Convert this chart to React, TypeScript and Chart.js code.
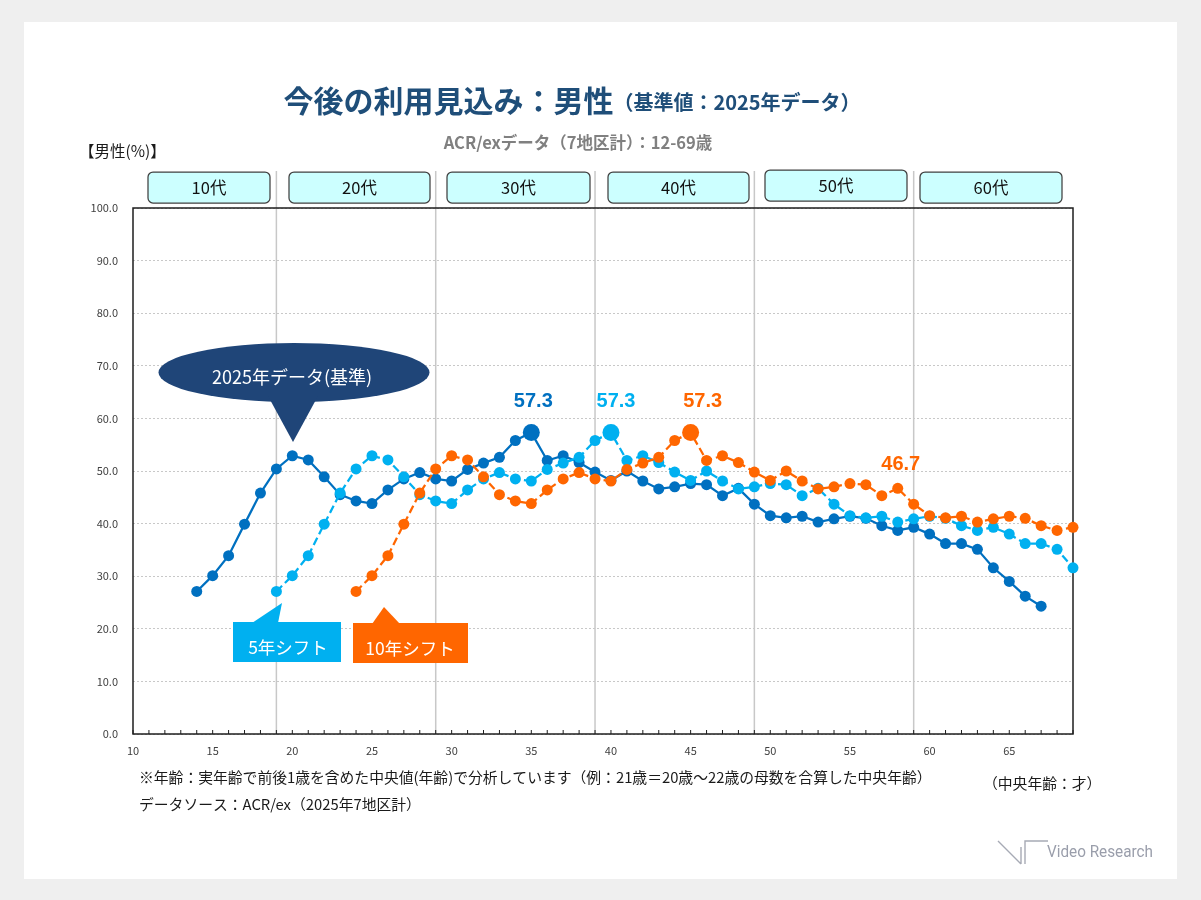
import { useEffect, useRef } from "react";
import { Chart, registerables } from "chart.js";

Chart.register(...registerables);

// ---- data ----
const baseAges = [14, 15, 16, 17, 18, 19, 20, 21, 22, 23, 24, 25, 26, 27, 28, 29, 30, 31, 32, 33, 34, 35, 36, 37, 38, 39, 40, 41, 42, 43, 44, 45, 46, 47, 48, 49, 50, 51, 52, 53, 54, 55, 56, 57, 58, 59, 60, 61, 62, 63, 64, 65, 66, 67];
const baseValues = [27.1, 30.1, 33.9, 39.9, 45.8, 50.4, 52.9, 52.1, 48.9, 45.5, 44.3, 43.8, 46.4, 48.5, 49.7, 48.5, 48.1, 50.3, 51.5, 52.6, 55.8, 57.3, 52.0, 52.9, 51.6, 49.8, 48.2, 50.0, 48.1, 46.6, 47.0, 47.6, 47.4, 45.3, 46.7, 43.7, 41.5, 41.1, 41.4, 40.3, 40.9, 41.4, 41.0, 39.6, 38.7, 39.3, 38.0, 36.2, 36.2, 35.1, 31.6, 29.0, 26.2, 24.3];

const shift5Ages = [19, 20, 21, 22, 23, 24, 25, 26, 27, 28, 29, 30, 31, 32, 33, 34, 35, 36, 37, 38, 39, 40, 41, 42, 43, 44, 45, 46, 47, 48, 49, 50, 51, 52, 53, 54, 55, 56, 57, 58, 59, 60, 61, 62, 63, 64, 65, 66, 67, 68, 69];
const shift5Values = [27.1, 30.1, 33.9, 39.9, 45.8, 50.4, 52.9, 52.1, 48.9, 45.5, 44.3, 43.8, 46.4, 48.5, 49.7, 48.5, 48.1, 50.3, 51.5, 52.6, 55.8, 57.3, 52.0, 52.9, 51.6, 49.8, 48.2, 50.0, 48.1, 46.6, 47.0, 47.6, 47.4, 45.3, 46.7, 43.7, 41.5, 41.1, 41.4, 40.3, 40.9, 41.4, 41.0, 39.6, 38.7, 39.3, 38.0, 36.2, 36.2, 35.1, 31.6];

const shift10Ages = [24, 25, 26, 27, 28, 29, 30, 31, 32, 33, 34, 35, 36, 37, 38, 39, 40, 41, 42, 43, 44, 45, 46, 47, 48, 49, 50, 51, 52, 53, 54, 55, 56, 57, 58, 59, 60, 61, 62, 63, 64, 65, 66, 67, 68, 69];
const shift10Values = [27.1, 30.1, 33.9, 39.9, 45.8, 50.4, 52.9, 52.1, 48.9, 45.5, 44.3, 43.8, 46.4, 48.5, 49.7, 48.5, 48.1, 50.3, 51.5, 52.6, 55.8, 57.3, 52.0, 52.9, 51.6, 49.8, 48.2, 50.0, 48.1, 46.6, 47.0, 47.6, 47.4, 45.3, 46.7, 43.7, 41.5, 41.1, 41.4, 40.3, 40.9, 41.4, 41.0, 39.6, 38.7, 39.3];

const peakAgeBase = 35;
const peakAgeShift5 = 40;
const peakAgeShift10 = 45;
const peakLabelText = "57.3";
const noteAge = 58;
const noteLabelText = "46.7";

const decadeLabels = ["10代", "20代", "30代", "40代", "50代", "60代"];
const decadeDividerAges = [19, 29, 39, 49, 59];

const xMin = 10;
const xMax = 69;
const yMin = 0;
const yMax = 100;

// ---- style ----
const DARK = "#0070C0";
const LIGHT = "#00B0F0";
const ORANGE = "#FF6600";
const NAVY = "#1F4E79";
const JP = "'Noto Sans CJK JP', 'Noto Sans', sans-serif";

function toPoints(ages: number[], vals: number[]) {
  return ages.map((a, i) => ({ x: a, y: vals[i] }));
}

const decor = {
  id: "decor",
  beforeDatasetsDraw(chart: any) {
    const { ctx, chartArea: ca, scales } = chart;
    const x = scales.x;
    ctx.save();
    // decade dividers (extend up into the header row)
    ctx.strokeStyle = "#C8C8C8";
    ctx.lineWidth = 1.5;
    decadeDividerAges.forEach((a) => {
      const px = x.getPixelForValue(a);
      ctx.beginPath();
      ctx.moveTo(px, 171);
      ctx.lineTo(px, ca.bottom);
      ctx.stroke();
    });
    // plot frame
    ctx.strokeStyle = "#1e1e1e";
    ctx.lineWidth = 1.5;
    ctx.strokeRect(ca.left, ca.top, ca.right - ca.left, ca.bottom - ca.top);
    // small ticks for every age
    ctx.lineWidth = 1;
    for (let a = xMin; a <= xMax; a++) {
      const px = x.getPixelForValue(a);
      ctx.beginPath();
      ctx.moveTo(px, ca.bottom);
      ctx.lineTo(px, ca.bottom - 4);
      ctx.stroke();
    }
    ctx.restore();
  },
  afterDraw(chart: any) {
    const { ctx, scales } = chart;
    const x = scales.x;
    const y = scales.y;
    ctx.save();

    // title
    const t1 = "今後の利用見込み：男性";
    const t2 = "（基準値：2025年データ）";
    const f1 = `bold 30px ${JP}`;
    const f2 = `bold 20px ${JP}`;
    ctx.font = f1;
    const w1 = ctx.measureText(t1).width;
    ctx.font = f2;
    const w2 = ctx.measureText(t2).width;
    const sx = 572 - (w1 + w2) / 2;
    ctx.fillStyle = NAVY;
    ctx.textBaseline = "alphabetic";
    ctx.textAlign = "left";
    ctx.font = f1;
    ctx.fillText(t1, sx, 112);
    ctx.font = f2;
    ctx.fillText(t2, sx + w1, 110);

    // subtitle
    ctx.font = `bold 16.5px ${JP}`;
    ctx.fillStyle = "#808080";
    ctx.textAlign = "center";
    ctx.textBaseline = "middle";
    ctx.fillText("ACR/exデータ（7地区計）：12-69歳", 578, 143);

    // unit label
    ctx.font = `15.5px ${JP}`;
    ctx.fillStyle = "#1a1a1a";
    ctx.textAlign = "left";
    ctx.fillText("【男性(%)】", 79, 151);

    // decade boxes
    const boxes = [
      [148, 270],
      [289, 430],
      [447, 590],
      [608, 749],
      [765, 907],
      [920, 1062],
    ];
    boxes.forEach(([l, r], i) => {
      const top = i === 4 ? 170 : 172;
      const h = 31;
      ctx.beginPath();
      ctx.roundRect(l, top, r - l, h, 5);
      ctx.fillStyle = "#CCFFFF";
      ctx.fill();
      ctx.strokeStyle = "#404040";
      ctx.lineWidth = 1.25;
      ctx.stroke();
      ctx.fillStyle = "#111";
      ctx.font = `16.5px ${JP}`;
      ctx.textAlign = "center";
      ctx.textBaseline = "middle";
      ctx.fillText(decadeLabels[i], (l + r) / 2, top + h / 2);
    });

    // peak labels
    ctx.font = "bold 20px 'Liberation Sans', Arial, sans-serif";
    ctx.textAlign = "center";
    ctx.textBaseline = "alphabetic";
    const peakVal = parseFloat(peakLabelText);
    const py = y.getPixelForValue(peakVal);
    ctx.fillStyle = DARK;
    ctx.fillText(peakLabelText, x.getPixelForValue(peakAgeBase) + 2, py - 26);
    ctx.fillStyle = LIGHT;
    ctx.fillText(peakLabelText, x.getPixelForValue(peakAgeShift5) + 5, py - 26);
    ctx.fillStyle = ORANGE;
    ctx.fillText(peakLabelText, x.getPixelForValue(peakAgeShift10) + 12, py - 26);
    ctx.fillText(noteLabelText, x.getPixelForValue(noteAge) + 3, y.getPixelForValue(parseFloat(noteLabelText)) - 18);

    // callout: 2025年データ(基準)
    ctx.fillStyle = "#1F4578";
    ctx.beginPath();
    ctx.ellipse(294, 372.5, 135.5, 29.5, 0, 0, Math.PI * 2);
    ctx.fill();
    ctx.beginPath();
    ctx.moveTo(268, 396);
    ctx.lineTo(293, 442);
    ctx.lineTo(318, 396);
    ctx.closePath();
    ctx.fill();
    ctx.fillStyle = "#ffffff";
    ctx.font = `18px ${JP}`;
    ctx.textAlign = "center";
    ctx.textBaseline = "middle";
    ctx.fillText("2025年データ(基準)", 292, 377);

    // callout: 5年シフト
    ctx.fillStyle = LIGHT;
    ctx.fillRect(233, 622, 108, 40);
    ctx.beginPath();
    ctx.moveTo(252, 623);
    ctx.lineTo(282, 603);
    ctx.lineTo(278, 623);
    ctx.closePath();
    ctx.fill();
    ctx.fillStyle = "#ffffff";
    ctx.font = `17.5px ${JP}`;
    ctx.fillText("5年シフト", 288, 647);

    // callout: 10年シフト
    ctx.fillStyle = ORANGE;
    ctx.fillRect(353, 623, 115, 40);
    ctx.beginPath();
    ctx.moveTo(372, 624);
    ctx.lineTo(384, 607);
    ctx.lineTo(400, 624);
    ctx.closePath();
    ctx.fill();
    ctx.fillStyle = "#ffffff";
    ctx.fillText("10年シフト", 410, 648);

    // footnotes
    ctx.fillStyle = "#1a1a1a";
    ctx.font = `14.8px ${JP}`;
    ctx.textAlign = "left";
    ctx.textBaseline = "middle";
    ctx.fillText(
      "※年齢：実年齢で前後1歳を含めた中央値(年齢)で分析しています（例：21歳＝20歳〜22歳の母数を合算した中央年齢）",
      139,
      777
    );
    ctx.fillText("データソース：ACR/ex（2025年7地区計）", 139, 804);
    ctx.fillText("（中央年齢：才）", 983, 783);

    // logo
    ctx.strokeStyle = "#A7AAB5";
    ctx.lineWidth = 1.4;
    ctx.beginPath();
    ctx.moveTo(998, 841);
    ctx.lineTo(1021, 864);
    ctx.moveTo(1021, 847);
    ctx.lineTo(1021, 864);
    ctx.moveTo(1025, 864);
    ctx.lineTo(1025, 841);
    ctx.lineTo(1048, 841);
    ctx.stroke();
    ctx.fillStyle = "#9A9EAB";
    ctx.font = "16px Roboto, 'Noto Sans', sans-serif";
    ctx.textBaseline = "middle";
    const logo = "Video Research";
    const lw = ctx.measureText(logo).width;
    ctx.translate(1047, 853);
    ctx.scale(106 / lw, 1);
    ctx.fillText(logo, 0, 0);

    ctx.restore();
  },
};

export default function App() {
  const canvasRef = useRef<HTMLCanvasElement | null>(null);

  useEffect(() => {
    document.body.style.margin = "0";
    document.body.style.overflow = "hidden";
    const canvas = canvasRef.current;
    if (!canvas) return;

    const radiusFor = (peak: number) => (c: any) =>
      c.raw && c.raw.x === peak ? 8.5 : 5.5;

    const chart = new Chart(canvas, {
      type: "line",
      data: {
        datasets: [
          {
            label: "2025年データ(基準)",
            data: toPoints(baseAges, baseValues),
            borderColor: DARK,
            backgroundColor: DARK,
            pointBackgroundColor: DARK,
            pointBorderColor: DARK,
            pointBorderWidth: 0,
            borderWidth: 2.25,
            pointRadius: radiusFor(peakAgeBase),
            tension: 0,
            clip: false,
            order: 3,
          },
          {
            label: "5年シフト",
            data: toPoints(shift5Ages, shift5Values),
            borderColor: LIGHT,
            backgroundColor: LIGHT,
            pointBackgroundColor: LIGHT,
            pointBorderColor: LIGHT,
            pointBorderWidth: 0,
            borderWidth: 2.25,
            borderDash: [8, 4],
            pointRadius: radiusFor(peakAgeShift5),
            tension: 0,
            clip: false,
            order: 2,
          },
          {
            label: "10年シフト",
            data: toPoints(shift10Ages, shift10Values),
            borderColor: ORANGE,
            backgroundColor: ORANGE,
            pointBackgroundColor: ORANGE,
            pointBorderColor: ORANGE,
            pointBorderWidth: 0,
            borderWidth: 2.25,
            borderDash: [8, 4],
            pointRadius: radiusFor(peakAgeShift10),
            tension: 0,
            clip: false,
            order: 1,
          },
        ],
      },
      options: {
        animation: false,
        responsive: false,
        maintainAspectRatio: false,
        events: [],
        layout: { padding: { left: 0, top: 208, right: 128, bottom: 0 } },
        plugins: {
          legend: { display: false },
          tooltip: { enabled: false },
          title: { display: false },
        },
        scales: {
          x: {
            type: "linear",
            min: xMin,
            max: xMax,
            afterFit: (s: any) => {
              s.height = 166;
            },
            grid: { display: false, drawTicks: false },
            border: { display: false },
            ticks: {
              stepSize: 1,
              autoSkip: false,
              maxRotation: 0,
              minRotation: 0,
              padding: 10,
              color: "#404040",
              font: { size: 11, family: JP },
              callback: (v: any) => (Number(v) % 5 === 0 ? String(v) : ""),
            },
          },
          y: {
            min: yMin,
            max: yMax,
            afterFit: (s: any) => {
              s.width = 133;
            },
            grid: { color: "#C8C8C8", lineWidth: 1, drawTicks: false },
            border: { display: false, dash: [2, 2] },
            ticks: {
              stepSize: 10,
              padding: 15,
              color: "#404040",
              font: { size: 11, family: JP },
              callback: (v: any) => Number(v).toFixed(1),
            },
          },
        },
      },
      plugins: [decor],
    } as any);

    return () => {
      chart.destroy();
    };
  }, []);

  return (
    <div
      style={{
        position: "absolute",
        left: 0,
        top: 0,
        width: 1201,
        height: 900,
        background: "#EFEFEF",
        overflow: "hidden",
      }}
    >
      <div
        style={{
          position: "absolute",
          left: 24,
          top: 22,
          width: 1153,
          height: 857,
          background: "#FFFFFF",
        }}
      />
      <canvas
        ref={canvasRef}
        width={1201}
        height={900}
        style={{ position: "absolute", left: 0, top: 0, width: 1201, height: 900, display: "block" }}
      />
    </div>
  );
}
